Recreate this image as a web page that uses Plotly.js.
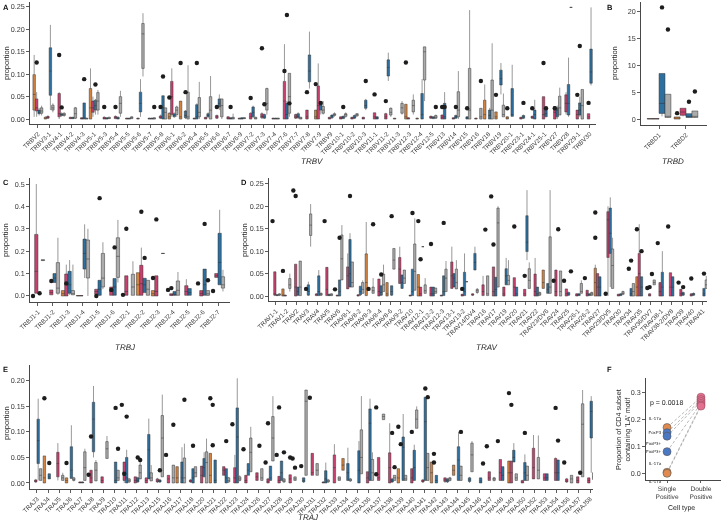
<!DOCTYPE html>
<html><head><meta charset="utf-8">
<script src="https://cdn.plot.ly/plotly-3.0.1.min.js"></script>
<style>html,body{margin:0;padding:0;background:#fff}#chart{width:722px;height:525px;opacity:0.995;will-change:transform}#chart text{text-rendering:geometricPrecision}</style>
</head><body><div id="chart"></div>
<script>
// ---------------- DATA ----------------
// box tuples: [category, lowerWhisker, q1, median, q3, upperWhisker]
// outliers: [category, group (O=orange,P=pink,B=blue,G=grey), value]
const trbvCats = ["TRBV2","TRBV3-1","TRBV4-1","TRBV4-2","TRBV4-3","TRBV5-1","TRBV5-3","TRBV5-4","TRBV5-5","TRBV5-6","TRBV5-7","TRBV5-8","TRBV6-1","TRBV6-2","TRBV6-4","TRBV6-5","TRBV6-6","TRBV6-7","TRBV6-9","TRBV7-2","TRBV7-3","TRBV7-4","TRBV7-6","TRBV7-7","TRBV7-8","TRBV7-9","TRBV9","TRBV10-1","TRBV10-2","TRBV10-3","TRBV11-1","TRBV11-2","TRBV11-3","TRBV12-3","TRBV12-4","TRBV12-5","TRBV13","TRBV14","TRBV15","TRBV16","TRBV18","TRBV19","TRBV20-1","TRBV23-1","TRBV24-1","TRBV25-1","TRBV27","TRBV28","TRBV29-1","TRBV30"];
const trbvOrange = [["TRBV2",0.005,0.02,0.055,0.099,0.143],["TRBV3-1",0,0,0.002,0.004,0.006],["TRBV5-1",0,0,0.025,0.068,0.113],["TRBV6-1",0,0,0.005,0.013,0.015],["TRBV6-2",0,0,0.005,0.04,0.04],["TRBV7-9",0,0,0.005,0.02,0.02],["TRBV11-3",0,0,0.001,0.002,0.002],["TRBV12-3",0,0,0.005,0.033,0.033],["TRBV12-4",0,0,0.001,0.002,0.003],["TRBV18",0,0,0.01,0.042,0.077],["TRBV19",0,0,0.005,0.016,0.016],["TRBV20-1",0,0,0.002,0.005,0.006]];
const trbvPink = [["TRBV2",0.005,0.018,0.025,0.045,0.06],["TRBV3-1",0,0.002,0.004,0.006,0.008],["TRBV4-1",0,0.005,0.012,0.057,0.06],["TRBV4-2",0,0.001,0.002,0.004,0.005],["TRBV4-3",0,0,0.001,0.003,0.004],["TRBV5-1",0.005,0.015,0.025,0.04,0.05],["TRBV5-3",0,0,0.002,0.004,0.006],["TRBV5-4",0,0.001,0.003,0.006,0.008],["TRBV5-5",0,0,0.001,0.002,0.003],["TRBV5-6",0,0,0.001,0.002,0.003],["TRBV5-7",0,0,0.001,0.002,0.003],["TRBV5-8",0,0.002,0.004,0.007,0.01],["TRBV6-1",0.005,0.01,0.05,0.084,0.113],["TRBV6-4",0,0,0.001,0.002,0.003],["TRBV6-5",0,0,0.002,0.004,0.005],["TRBV6-6",0,0.002,0.005,0.008,0.01],["TRBV6-7",0,0,0.002,0.005,0.006],["TRBV6-9",0,0,0.001,0.002,0.003],["TRBV7-2",0,0,0.005,0.013,0.015],["TRBV7-3",0,0.003,0.006,0.012,0.015],["TRBV7-4",0,0,0.001,0.002,0.003],["TRBV7-6",0,0,0.04,0.084,0.167],["TRBV7-7",0,0.002,0.005,0.01,0.012],["TRBV7-8",0,0,0.005,0.02,0.02],["TRBV7-9",0,0,0.03,0.074,0.124],["TRBV9",0,0,0.002,0.004,0.005],["TRBV10-1",0,0,0.002,0.005,0.006],["TRBV10-2",0,0,0.002,0.004,0.005],["TRBV10-3",0,0,0.002,0.004,0.005],["TRBV11-1",0,0,0.005,0.014,0.014],["TRBV11-2",0,0,0.005,0.012,0.014],["TRBV12-3",0,0,0.001,0.003,0.004],["TRBV12-5",0,0.002,0.004,0.006,0.008],["TRBV13",0,0,0.004,0.009,0.01],["TRBV14",0,0,0.001,0.003,0.004],["TRBV16",0,0,0.001,0.002,0.003],["TRBV23-1",0,0,0.002,0.004,0.005],["TRBV24-1",0,0.002,0.004,0.006,0.008],["TRBV25-1",0,0,0.01,0.05,0.05],["TRBV27",0,0,0.015,0.028,0.028],["TRBV28",0.01,0.016,0.035,0.054,0.06],["TRBV29-1",0,0,0.01,0.02,0.02],["TRBV30",0,0,0.005,0.012,0.012]];
const trbvBlue = [["TRBV2",0.008,0.012,0.015,0.02,0.025],["TRBV3-1",0.02,0.053,0.107,0.159,0.21],["TRBV4-1",0.005,0.008,0.01,0.012,0.015],["TRBV4-2",0,0.001,0.002,0.004,0.005],["TRBV4-3",0,0,0.003,0.036,0.036],["TRBV5-1",0.01,0.02,0.03,0.042,0.045],["TRBV5-3",0,0,0.001,0.003,0.004],["TRBV5-4",0,0,0.002,0.004,0.006],["TRBV5-5",0,0,0.001,0.002,0.003],["TRBV5-6",0.005,0.016,0.035,0.06,0.089],["TRBV5-7",0,0,0.001,0.002,0.003],["TRBV5-8",0,0,0.025,0.052,0.052],["TRBV6-1",0.003,0.005,0.008,0.012,0.015],["TRBV6-2",0,0.003,0.008,0.018,0.02],["TRBV6-4",0,0,0.005,0.032,0.035],["TRBV6-5",0.003,0.005,0.008,0.012,0.015],["TRBV6-6",0.02,0.027,0.035,0.045,0.055],["TRBV6-7",0,0,0.001,0.003,0.004],["TRBV6-9",0,0,0.001,0.003,0.004],["TRBV7-2",0.003,0.005,0.015,0.027,0.03],["TRBV7-3",0,0.002,0.005,0.01,0.012],["TRBV7-4",0,0,0.001,0.002,0.003],["TRBV7-6",0,0,0.01,0.035,0.04],["TRBV7-7",0,0.003,0.006,0.012,0.015],["TRBV7-8",0.068,0.083,0.107,0.143,0.195],["TRBV7-9",0.01,0.02,0.03,0.036,0.04],["TRBV9",0,0.003,0.006,0.009,0.01],["TRBV10-1",0,0.001,0.003,0.006,0.008],["TRBV10-2",0,0.002,0.004,0.008,0.01],["TRBV10-3",0.02,0.024,0.03,0.042,0.045],["TRBV11-1",0,0,0.003,0.005,0.006],["TRBV11-2",0.085,0.096,0.115,0.132,0.148],["TRBV12-4",0,0,0.01,0.057,0.089],["TRBV12-5",0,0.001,0.003,0.005,0.006],["TRBV13",0,0,0.005,0.035,0.06],["TRBV14",0,0.002,0.005,0.008,0.01],["TRBV15",0,0,0.003,0.005,0.006],["TRBV18",0,0,0.008,0.02,0.025],["TRBV19",0.055,0.076,0.09,0.109,0.125],["TRBV20-1",0.005,0.006,0.01,0.068,0.121],["TRBV23-1",0,0.002,0.005,0.008,0.01],["TRBV24-1",0,0,0.01,0.02,0.043],["TRBV25-1",0.005,0.005,0.012,0.024,0.024],["TRBV27",0,0.005,0.02,0.025,0.03],["TRBV28",0.005,0.009,0.035,0.077,0.137],["TRBV29-1",0.005,0.009,0.02,0.036,0.05],["TRBV30",0.075,0.08,0.105,0.156,0.249]];
const trbvGrey = [["TRBV2",0.008,0.013,0.018,0.025,0.03],["TRBV3-1",0.015,0.02,0.025,0.031,0.035],["TRBV4-1",0.005,0.008,0.01,0.013,0.015],["TRBV4-2",0,0.002,0.012,0.025,0.027],["TRBV4-3",0,0,0.001,0.002,0.003],["TRBV5-1",0.01,0.02,0.04,0.059,0.065],["TRBV5-3",0,0.001,0.002,0.004,0.005],["TRBV5-4",0.005,0.013,0.035,0.05,0.063],["TRBV5-5",0,0.001,0.003,0.005,0.006],["TRBV5-6",0.095,0.113,0.19,0.213,0.236],["TRBV5-7",0,0,0.001,0.003,0.004],["TRBV5-8",0,0,0.015,0.025,0.025],["TRBV6-1",0.005,0.01,0.02,0.027,0.03],["TRBV6-2",0,0,0.005,0.06,0.12],["TRBV6-4",0,0.005,0.015,0.048,0.083],["TRBV6-5",0,0,0.02,0.05,0.096],["TRBV6-6",0,0.005,0.03,0.045,0.045],["TRBV6-7",0,0,0.002,0.004,0.012],["TRBV6-9",0,0.001,0.002,0.003,0.004],["TRBV7-2",0,0,0.002,0.004,0.005],["TRBV7-3",0.01,0.02,0.035,0.068,0.07],["TRBV7-4",0,0,0.001,0.002,0.003],["TRBV7-6",0.005,0.013,0.05,0.102,0.102],["TRBV7-7",0,0,0.002,0.004,0.005],["TRBV7-9",0.01,0.013,0.02,0.028,0.04],["TRBV9",0.005,0.008,0.01,0.012,0.015],["TRBV10-1",0.003,0.006,0.01,0.012,0.015],["TRBV10-2",0.005,0.007,0.01,0.012,0.013],["TRBV11-2",0.005,0.009,0.015,0.024,0.026],["TRBV11-3",0.01,0.013,0.025,0.035,0.04],["TRBV12-3",0.01,0.016,0.03,0.042,0.055],["TRBV12-4",0.04,0.087,0.15,0.161,0.161],["TRBV12-5",0,0.002,0.004,0.008,0.01],["TRBV14",0,0.005,0.02,0.061,0.107],["TRBV15",0,0,0.02,0.113,0.243],["TRBV16",0,0,0.005,0.024,0.024],["TRBV18",0,0,0.02,0.087,0.169],["TRBV19",0.005,0.005,0.01,0.031,0.057],["TRBV27",0.009,0.009,0.025,0.051,0.07],["TRBV28",0.249,0.249,0.249,0.249,0.249],["TRBV29-1",0,0,0.03,0.066,0.066]];
const trbvOutliers = [["TRBV2","P",0.126],["TRBV4-1","P",0.143],["TRBV4-1","B",0.026],["TRBV4-3","B",0.089],["TRBV5-1","B",0.077],["TRBV5-3","P",0.027],["TRBV5-4","P",0.027],["TRBV5-7","G",0.027],["TRBV5-8","P",0.027],["TRBV5-8","B",0.095],["TRBV6-1","O",0.048],["TRBV6-2","O",0.125],["TRBV6-2","B",0.06],["TRBV6-4","B",0.125],["TRBV6-6","P",0.027],["TRBV6-7","B",0.027],["TRBV7-2","P",0.047],["TRBV7-3","P",0.158],["TRBV7-3","B",0.033],["TRBV7-6","P",0.107],["TRBV7-6","B",0.232],["TRBV7-6","G",0.035],["TRBV7-8","P",0.06],["TRBV7-9","O",0.078],["TRBV7-9","B",0.036],["TRBV10-1","B",0.027],["TRBV10-3","B",0.085],["TRBV11-1","P",0.055],["TRBV11-2","P",0.04],["TRBV12-3","O",0.126],["TRBV12-5","G",0.027],["TRBV13","P",0.027],["TRBV13","B",0.027],["TRBV14","B",0.027],["TRBV15","B",0.024],["TRBV16","G",0.085],["TRBV19","O",0.054],["TRBV20-1","O",0.024],["TRBV23-1","B",0.036],["TRBV24-1","P",0.024],["TRBV25-1","P",0.125],["TRBV25-1","B",0.024],["TRBV27","P",0.024],["TRBV29-1","P",0.054],["TRBV29-1","B",0.163],["TRBV30","P",0.036]];

const trbdCats = ["TRBD1","TRBD2"];
const trbdOrange = [["TRBD1",0,0,0.05,0.1,0.1],["TRBD2",0,0,0.2,0.4,0.4]];
const trbdPink = [["TRBD1",0,0,0.05,0.1,0.1],["TRBD2",0.5,0.7,1.3,2.0,2.0]];
const trbdBlue = [["TRBD1",0.5,1.05,2.9,8.45,8.45],["TRBD2",0.2,0.3,0.4,1.0,1.0]];
const trbdGrey = [["TRBD1",0.2,0.3,0.5,4.6,4.6],["TRBD2",0.2,0.3,0.5,1.5,1.5]];
const trbdOutliers = [["TRBD1","B",20.7],["TRBD1","G",16.6],["TRBD2","O",1.1],["TRBD2","B",3.2],["TRBD2","G",5.1]];

const trbjCats = ["TRBJ1-1","TRBJ1-2","TRBJ1-3","TRBJ1-4","TRBJ1-5","TRBJ1-6","TRBJ2-1","TRBJ2-2","TRBJ2-3","TRBJ2-4","TRBJ2-5","TRBJ2-6","TRBJ2-7"];
const trbjOrange = [["TRBJ1-3",0,0,0.01,0.024,0.024],["TRBJ1-4",0,0,0.001,0.002,0.003],["TRBJ2-2",0.003,0.003,0.05,0.104,0.104],["TRBJ2-3",0,0,0.01,0.024,0.024]];
const trbjPink = [["TRBJ1-1",0.012,0.012,0.11,0.275,0.5],["TRBJ1-2",0.005,0.005,0.015,0.027,0.027],["TRBJ1-3",0,0,0.05,0.098,0.14],["TRBJ1-4",0,0,0.001,0.002,0.003],["TRBJ1-5",0.008,0.008,0.02,0.03,0.03],["TRBJ1-6",0.003,0.003,0.02,0.04,0.04],["TRBJ2-1",0.003,0.003,0.02,0.09,0.09],["TRBJ2-2",0.003,0.003,0.055,0.137,0.216],["TRBJ2-3",0,0,0.02,0.09,0.09],["TRBJ2-4",0,0.002,0.005,0.01,0.01],["TRBJ2-5",0.003,0.003,0.02,0.046,0.075],["TRBJ2-6",0,0,0.01,0.024,0.024],["TRBJ2-7",0.083,0.083,0.09,0.1,0.1]];
const trbjBlue = [["TRBJ1-2",0.06,0.06,0.08,0.1,0.1],["TRBJ1-3",0.005,0.012,0.05,0.11,0.16],["TRBJ1-4",0.08,0.12,0.19,0.254,0.32],["TRBJ1-5",0,0.003,0.03,0.07,0.07],["TRBJ1-6",0.003,0.003,0.04,0.078,0.078],["TRBJ2-2",0.015,0.015,0.05,0.079,0.079],["TRBJ2-4",0,0.003,0.008,0.02,0.02],["TRBJ2-5",0.003,0.003,0.015,0.033,0.033],["TRBJ2-6",0.003,0.003,0.05,0.12,0.12],["TRBJ2-7",0.05,0.05,0.15,0.28,0.385]];
const trbjGrey = [["TRBJ1-1",0.158,0.158,0.16,0.162,0.162],["TRBJ1-2",0.005,0.012,0.035,0.149,0.26],["TRBJ1-3",0.005,0.005,0.01,0.024,0.14],["TRBJ1-4",0,0.08,0.165,0.25,0.3],["TRBJ1-5",0.03,0.04,0.08,0.19,0.24],["TRBJ1-6",0.06,0.083,0.177,0.26,0.34],["TRBJ2-1",0.003,0.003,0.04,0.097,0.155],["TRBJ2-2",0.003,0.003,0.03,0.07,0.07],["TRBJ2-3",0.19,0.19,0.19,0.19,0.19],["TRBJ2-4",0.003,0.003,0.025,0.067,0.107],["TRBJ2-6",0,0.003,0.01,0.024,0.024],["TRBJ2-7",0.02,0.035,0.05,0.086,0.117]];
const trbjOutliers = [["TRBJ1-1","O",0.0],["TRBJ1-1","B",0.012],["TRBJ1-2","P",0.067],["TRBJ1-3","P",0.056],["TRBJ1-5","P",0.0],["TRBJ1-5","B",0.437],["TRBJ1-6","P",0.027],["TRBJ1-6","B",0.217],["TRBJ2-1","O",0.005],["TRBJ2-1","P",0.3],["TRBJ2-2","P",0.376],["TRBJ2-2","B",0.17],["TRBJ2-3","O",0.08],["TRBJ2-3","P",0.342],["TRBJ2-4","O",0.027],["TRBJ2-4","P",0.035],["TRBJ2-6","O",0.056],["TRBJ2-6","B",0.322],["TRBJ2-6","G",0.07],["TRBJ2-7","O",0.022]];

const travCats = ["TRAV1-1","TRAV1-2","TRAV2","TRAV3","TRAV4","TRAV5","TRAV6","TRAV8-1","TRAV8-2","TRAV8-3","TRAV8-4","TRAV8-6","TRAV9-2","TRAV10","TRAV12-1","TRAV12-2","TRAV12-3","TRAV13-1","TRAV13-2","TRAV14/DV4","TRAV16","TRAV17","TRAV19","TRAV20","TRAV21","TRAV22","TRAV23/DV6","TRAV24","TRAV25","TRAV26-1","TRAV26-2","TRAV27","TRAV29/DV5","TRAV30","TRAV34","TRAV35","TRAV36/DV7","TRAV38-1","TRAV38-2/DV8","TRAV39","TRAV40","TRAV41"];
const travOrange = [["TRAV1-2",0,0,0.002,0.016,0.016],["TRAV8-3",0,0.001,0.03,0.094,0.165],["TRAV8-6",0,0,0.005,0.03,0.03],["TRAV12-1",0,0,0.02,0.048,0.048],["TRAV23/DV6",0.017,0.017,0.03,0.058,0.058],["TRAV27",0,0,0.03,0.062,0.07],["TRAV35",0,0,0.02,0.043,0.043]];
const travPink = [["TRAV1-1",0,0.002,0.005,0.054,0.054],["TRAV1-2",0,0,0.001,0.002,0.003],["TRAV2",0,0,0.02,0.071,0.071],["TRAV4",0,0.001,0.003,0.005,0.006],["TRAV5",0.001,0.001,0.015,0.064,0.064],["TRAV6",0,0,0.001,0.002,0.003],["TRAV8-1",0.016,0.016,0.045,0.065,0.095],["TRAV8-2",0,0,0.001,0.003,0.004],["TRAV8-4",0,0,0.01,0.038,0.038],["TRAV9-2",0.028,0.028,0.06,0.086,0.11],["TRAV10",0,0,0.001,0.002,0.003],["TRAV12-1",0,0,0.005,0.02,0.02],["TRAV12-2",0,0,0.005,0.02,0.02],["TRAV12-3",0,0,0.001,0.002,0.003],["TRAV13-1",0.017,0.017,0.045,0.076,0.11],["TRAV13-2",0,0,0.002,0.004,0.005],["TRAV14/DV4",0,0.002,0.003,0.005,0.006],["TRAV16",0.001,0.001,0.01,0.025,0.045],["TRAV17",0,0,0.01,0.065,0.065],["TRAV19",0,0,0.005,0.02,0.02],["TRAV20",0,0,0.02,0.041,0.041],["TRAV21",0,0,0.005,0.015,0.015],["TRAV22",0,0,0.01,0.049,0.085],["TRAV24",0,0,0.01,0.058,0.058],["TRAV25",0,0,0.005,0.016,0.016],["TRAV26-1",0,0,0.002,0.005,0.006],["TRAV26-2",0,0,0.005,0.013,0.013],["TRAV27",0,0,0.02,0.05,0.05],["TRAV29/DV5",0,0.086,0.17,0.188,0.2],["TRAV30",0,0,0.002,0.004,0.005],["TRAV35",0,0,0.05,0.095,0.16],["TRAV36/DV7",0,0,0.002,0.005,0.006],["TRAV38-1",0,0,0.01,0.03,0.03],["TRAV38-2/DV8",0,0,0.02,0.052,0.052],["TRAV39",0,0,0.005,0.015,0.015],["TRAV40",0,0,0.002,0.005,0.006]];
const travBlue = [["TRAV1-1",0,0.001,0.002,0.003,0.004],["TRAV2",0,0.002,0.01,0.02,0.02],["TRAV3",0,0.002,0.01,0.025,0.032],["TRAV4",0.001,0.001,0.01,0.045,0.058],["TRAV5",0,0.001,0.002,0.004,0.005],["TRAV6",0,0,0.01,0.036,0.036],["TRAV8-1",0.02,0.02,0.05,0.126,0.14],["TRAV8-2",0,0.003,0.01,0.022,0.022],["TRAV8-4",0,0.002,0.008,0.023,0.023],["TRAV8-6",0,0.002,0.01,0.023,0.023],["TRAV9-2",0.017,0.017,0.03,0.047,0.047],["TRAV10",0.001,0.001,0.01,0.06,0.06],["TRAV12-1",0.11,0.11,0.11,0.11,0.11],["TRAV12-2",0,0,0.005,0.02,0.02],["TRAV12-3",0.001,0.001,0.01,0.045,0.045],["TRAV13-1",0.02,0.02,0.04,0.05,0.05],["TRAV13-2",0.001,0.001,0.01,0.053,0.095],["TRAV14/DV4",0.058,0.058,0.075,0.095,0.11],["TRAV17",0,0,0.015,0.042,0.042],["TRAV19",0.025,0.025,0.045,0.061,0.085],["TRAV20",0,0,0.005,0.02,0.02],["TRAV21",0.08,0.099,0.12,0.179,0.236],["TRAV22",0,0,0.005,0.02,0.02],["TRAV23/DV6",0.006,0.006,0.015,0.028,0.028],["TRAV25",0,0.002,0.005,0.008,0.01],["TRAV26-1",0,0.001,0.003,0.005,0.006],["TRAV26-2",0,0.001,0.003,0.005,0.006],["TRAV27",0,0,0.02,0.043,0.043],["TRAV29/DV5",0.02,0.095,0.14,0.196,0.22],["TRAV30",0,0.001,0.003,0.005,0.006],["TRAV34",0,0,0.005,0.017,0.017],["TRAV35",0,0,0.02,0.043,0.043],["TRAV38-1",0,0,0.02,0.053,0.1],["TRAV38-2/DV8",0,0,0.02,0.043,0.043],["TRAV39",0,0.002,0.005,0.008,0.01],["TRAV40",0,0.002,0.004,0.006,0.008],["TRAV41",0,0,0.005,0.017,0.017]];
const travGrey = [["TRAV1-1",0,0.002,0.003,0.005,0.006],["TRAV1-2",0.01,0.017,0.025,0.039,0.05],["TRAV2",0.001,0.001,0.02,0.078,0.078],["TRAV3",0.11,0.135,0.158,0.183,0.205],["TRAV4",0,0.002,0.004,0.006,0.008],["TRAV5",0,0.001,0.003,0.005,0.006],["TRAV6",0.036,0.036,0.083,0.136,0.158],["TRAV8-1",0.02,0.02,0.03,0.076,0.076],["TRAV8-2",0.006,0.006,0.015,0.03,0.035],["TRAV8-3",0.006,0.006,0.012,0.02,0.04],["TRAV8-4",0.01,0.01,0.025,0.049,0.07],["TRAV8-6",0.06,0.06,0.08,0.106,0.106],["TRAV9-2",0.028,0.028,0.04,0.058,0.058],["TRAV10",0.013,0.013,0.055,0.116,0.173],["TRAV12-1",0.006,0.006,0.012,0.025,0.04],["TRAV12-2",0.006,0.006,0.01,0.018,0.018],["TRAV12-3",0.01,0.01,0.04,0.06,0.078],["TRAV13-1",0.016,0.016,0.03,0.06,0.08],["TRAV13-2",0.032,0.032,0.032,0.032,0.032],["TRAV14/DV4",0.005,0.008,0.012,0.015,0.018],["TRAV16",0.001,0.001,0.005,0.045,0.045],["TRAV17",0.02,0.02,0.163,0.196,0.2],["TRAV19",0.025,0.025,0.035,0.046,0.08],["TRAV21",0.017,0.017,0.035,0.061,0.075],["TRAV22",0,0.002,0.005,0.008,0.01],["TRAV23/DV6",0.006,0.006,0.02,0.132,0.236],["TRAV24",0,0,0.01,0.056,0.056],["TRAV26-1",0.006,0.006,0.01,0.028,0.035],["TRAV26-2",0,0.002,0.005,0.008,0.01],["TRAV29/DV5",0.017,0.017,0.068,0.105,0.13],["TRAV30",0.002,0.004,0.006,0.01,0.012],["TRAV34",0,0,0.01,0.028,0.028],["TRAV36/DV7",0.025,0.025,0.03,0.036,0.036],["TRAV41",0.017,0.017,0.025,0.036,0.045]];
const travOutliers = [["TRAV1-1","O",0.167],["TRAV1-2","O",0.056],["TRAV2","O",0.235],["TRAV2","P",0.223],["TRAV3","P",0.016],["TRAV5","O",0.167],["TRAV6","O",0.015],["TRAV6","B",0.13],["TRAV8-1","B",0.223],["TRAV8-3","P",0.016],["TRAV8-3","G",0.16],["TRAV8-4","B",0.048],["TRAV8-6","B",0.178],["TRAV10","B",0.185],["TRAV12-1","O",0.167],["TRAV12-1","P",0.082],["TRAV12-2","P",0.116],["TRAV12-3","B",0.163],["TRAV13-2","P",0.016],["TRAV16","B",0.148],["TRAV17","O",0.222],["TRAV17","P",0.115],["TRAV20","P",0.155],["TRAV21","P",0.045],["TRAV24","O",0.034],["TRAV24","B",0.149],["TRAV25","O",0.034],["TRAV25","G",0.055],["TRAV26-2","O",0.04],["TRAV27","O",0.186],["TRAV27","O",0.13],["TRAV29/DV5","O",0.005],["TRAV34","P",0.061],["TRAV34","B",0.079],["TRAV35","O",0.149],["TRAV35","B",0.1],["TRAV36/DV7","O",0.018],["TRAV36/DV7","B",0.049],["TRAV36/DV7","P",0.02],["TRAV38-1","O",0.118],["TRAV38-2/DV8","O",0.155],["TRAV39","O",0.03],["TRAV39","B",0.02],["TRAV40","P",0.039],["TRAV41","B",0.05]];

const trajCats = ["TRAJ3","TRAJ4","TRAJ5","TRAJ6","TRAJ7","TRAJ8","TRAJ9","TRAJ10","TRAJ11","TRAJ12","TRAJ13","TRAJ15","TRAJ16","TRAJ17","TRAJ18","TRAJ20","TRAJ21","TRAJ22","TRAJ23","TRAJ24","TRAJ26","TRAJ27","TRAJ28","TRAJ29","TRAJ30","TRAJ31","TRAJ32","TRAJ33","TRAJ34","TRAJ35","TRAJ36","TRAJ37","TRAJ38","TRAJ39","TRAJ40","TRAJ41","TRAJ42","TRAJ43","TRAJ44","TRAJ45","TRAJ46","TRAJ47","TRAJ48","TRAJ49","TRAJ50","TRAJ52","TRAJ53","TRAJ54","TRAJ56","TRAJ57","TRAJ58"];
const trajOrange = [["TRAJ4",0,0,0.01,0.053,0.053],["TRAJ6",0,0,0.005,0.01,0.01],["TRAJ17",0,0,0.01,0.032,0.032],["TRAJ21",0,0,0.015,0.058,0.058],["TRAJ34",0.025,0.025,0.035,0.048,0.048],["TRAJ39",0,0,0.01,0.028,0.028],["TRAJ42",0,0,0.02,0.041,0.041],["TRAJ44",0.015,0.015,0.025,0.035,0.035],["TRAJ49",0,0,0.02,0.043,0.043]];
const trajPink = [["TRAJ3",0,0.002,0.004,0.006,0.008],["TRAJ5",0.005,0.012,0.038,0.06,0.078],["TRAJ7",0,0,0.001,0.002,0.003],["TRAJ8",0,0,0.01,0.025,0.025],["TRAJ9",0,0,0.005,0.012,0.012],["TRAJ11",0,0.005,0.015,0.041,0.041],["TRAJ12",0,0,0.005,0.012,0.012],["TRAJ13",0,0,0.005,0.01,0.01],["TRAJ15",0,0.002,0.004,0.008,0.01],["TRAJ16",0,0,0.008,0.015,0.015],["TRAJ18",0,0.002,0.004,0.006,0.008],["TRAJ20",0,0,0.015,0.033,0.033],["TRAJ22",0.015,0.015,0.025,0.032,0.032],["TRAJ23",0,0,0.01,0.03,0.055],["TRAJ24",0,0,0.005,0.015,0.015],["TRAJ26",0.005,0.005,0.012,0.02,0.02],["TRAJ27",0,0,0.003,0.008,0.01],["TRAJ28",0,0,0.005,0.013,0.013],["TRAJ29",0,0,0.008,0.016,0.016],["TRAJ31",0.015,0.015,0.02,0.058,0.058],["TRAJ32",0,0,0.001,0.002,0.003],["TRAJ33",0,0,0.03,0.055,0.076],["TRAJ36",0,0,0.01,0.022,0.022],["TRAJ37",0.005,0.005,0.01,0.05,0.05],["TRAJ38",0,0,0.03,0.059,0.117],["TRAJ40",0,0,0.01,0.028,0.028],["TRAJ41",0,0.002,0.004,0.006,0.008],["TRAJ43",0,0.003,0.006,0.01,0.01],["TRAJ47",0.005,0.005,0.01,0.022,0.022],["TRAJ48",0.005,0.005,0.02,0.046,0.046],["TRAJ49",0,0,0.02,0.043,0.043],["TRAJ50",0,0,0.002,0.005,0.006],["TRAJ52",0.008,0.008,0.03,0.068,0.094],["TRAJ53",0.005,0.005,0.01,0.018,0.018],["TRAJ54",0.005,0.005,0.02,0.048,0.05],["TRAJ56",0,0.002,0.004,0.008,0.01],["TRAJ57",0,0,0.005,0.012,0.012],["TRAJ58",0,0,0.005,0.01,0.01]];
const trajBlue = [["TRAJ3",0.005,0.038,0.083,0.125,0.165],["TRAJ4",0.008,0.008,0.012,0.018,0.018],["TRAJ6",0.009,0.009,0.025,0.071,0.113],["TRAJ7",0,0,0.001,0.002,0.003],["TRAJ8",0.05,0.061,0.125,0.158,0.19],["TRAJ10",0,0,0.005,0.041,0.041],["TRAJ11",0,0,0.01,0.05,0.065],["TRAJ12",0,0.002,0.005,0.01,0.012],["TRAJ13",0.008,0.008,0.065,0.095,0.126],["TRAJ15",0,0.002,0.004,0.006,0.008],["TRAJ17",0,0,0.01,0.041,0.07],["TRAJ18",0,0,0.01,0.028,0.028],["TRAJ20",0.012,0.012,0.03,0.048,0.06],["TRAJ21",0,0,0.005,0.045,0.045],["TRAJ22",0,0,0.01,0.028,0.028],["TRAJ23",0,0,0.09,0.147,0.205],["TRAJ24",0.015,0.015,0.025,0.038,0.038],["TRAJ27",0.005,0.005,0.01,0.033,0.033],["TRAJ28",0.005,0.005,0.02,0.043,0.043],["TRAJ30",0,0.002,0.005,0.01,0.01],["TRAJ32",0,0,0.008,0.024,0.04],["TRAJ34",0.005,0.005,0.02,0.038,0.069],["TRAJ35",0,0,0.025,0.063,0.082],["TRAJ36",0.005,0.005,0.117,0.145,0.165],["TRAJ38",0,0.002,0.004,0.008,0.01],["TRAJ39",0.005,0.005,0.07,0.09,0.135],["TRAJ40",0.005,0.005,0.03,0.064,0.075],["TRAJ41",0.005,0.005,0.12,0.168,0.168],["TRAJ42",0,0,0.005,0.015,0.015],["TRAJ43",0,0.002,0.005,0.008,0.01],["TRAJ44",0.005,0.005,0.045,0.071,0.1],["TRAJ45",0,0.003,0.006,0.01,0.012],["TRAJ46",0,0,0.004,0.01,0.01],["TRAJ48",0.005,0.005,0.015,0.032,0.032],["TRAJ49",0.041,0.041,0.05,0.064,0.078],["TRAJ50",0.005,0.005,0.02,0.04,0.056],["TRAJ53",0.005,0.005,0.01,0.018,0.018],["TRAJ54",0.005,0.005,0.02,0.045,0.045],["TRAJ58",0.02,0.088,0.14,0.16,0.17]];
const trajGrey = [["TRAJ3",0.005,0.005,0.015,0.028,0.028],["TRAJ5",0.005,0.005,0.01,0.015,0.02],["TRAJ6",0.003,0.005,0.007,0.01,0.012],["TRAJ7",0.005,0.005,0.03,0.061,0.067],["TRAJ8",0.004,0.004,0.025,0.04,0.045],["TRAJ9",0.048,0.048,0.067,0.081,0.092],["TRAJ10",0.005,0.005,0.01,0.025,0.025],["TRAJ11",0,0.002,0.005,0.008,0.01],["TRAJ12",0.008,0.008,0.02,0.035,0.05],["TRAJ13",0.004,0.004,0.01,0.02,0.035],["TRAJ15",0.012,0.012,0.088,0.132,0.173],["TRAJ16",0,0,0.01,0.035,0.035],["TRAJ17",0,0,0.01,0.049,0.077],["TRAJ18",0.012,0.012,0.02,0.032,0.032],["TRAJ20",0,0,0.04,0.061,0.087],["TRAJ22",0,0.002,0.005,0.01,0.012],["TRAJ23",0.003,0.005,0.008,0.012,0.015],["TRAJ24",0.022,0.022,0.06,0.088,0.11],["TRAJ26",0.005,0.005,0.01,0.028,0.028],["TRAJ27",0.043,0.043,0.088,0.13,0.17],["TRAJ28",0,0.002,0.004,0.008,0.01],["TRAJ29",0.005,0.005,0.008,0.012,0.012],["TRAJ30",0.015,0.015,0.16,0.182,0.182],["TRAJ31",0.015,0.015,0.025,0.038,0.038],["TRAJ32",0,0.002,0.004,0.006,0.008],["TRAJ33",0.005,0.005,0.008,0.012,0.012],["TRAJ34",0.002,0.004,0.006,0.008,0.01],["TRAJ35",0.018,0.018,0.05,0.104,0.17],["TRAJ36",0.005,0.005,0.02,0.046,0.06],["TRAJ37",0.124,0.124,0.13,0.135,0.135],["TRAJ38",0.005,0.005,0.01,0.015,0.015],["TRAJ39",0.005,0.005,0.008,0.015,0.015],["TRAJ40",0.107,0.107,0.125,0.143,0.15],["TRAJ41",0.005,0.005,0.03,0.058,0.058],["TRAJ43",0.003,0.005,0.008,0.01,0.012],["TRAJ44",0.005,0.005,0.015,0.033,0.033],["TRAJ45",0.022,0.022,0.055,0.078,0.082],["TRAJ47",0.003,0.005,0.008,0.01,0.012],["TRAJ49",0.005,0.005,0.01,0.018,0.018],["TRAJ50",0.005,0.005,0.015,0.033,0.033],["TRAJ52",0.008,0.008,0.025,0.05,0.093],["TRAJ56",0,0,0.008,0.015,0.015],["TRAJ57",0.012,0.012,0.115,0.155,0.182],["TRAJ58",0.007,0.007,0.012,0.02,0.025]];
const trajOutliers = [["TRAJ4","O",0.166],["TRAJ4","B",0.039],["TRAJ6","O",0.039],["TRAJ8","O",0.016],["TRAJ8","P",0.091],["TRAJ10","B",0.147],["TRAJ10","G",0.067],["TRAJ11","O",0.153],["TRAJ11","B",0.13],["TRAJ11","P",0.018],["TRAJ12","B",0.05],["TRAJ12","G",0.045],["TRAJ15","B",0.025],["TRAJ16","O",0.055],["TRAJ16","G",0.114],["TRAJ17","G",0.163],["TRAJ18","B",0.073],["TRAJ21","O",0.166],["TRAJ21","P",0.153],["TRAJ21","P",0.074],["TRAJ22","B",0.082],["TRAJ23","O",0.115],["TRAJ24","O",0.066],["TRAJ26","B",0.073],["TRAJ27","O",0.04],["TRAJ27","P",0.117],["TRAJ28","O",0.055],["TRAJ28","P",0.148],["TRAJ28","G",0.06],["TRAJ29","P",0.05],["TRAJ29","B",0.048],["TRAJ29","G",0.03],["TRAJ30","P",0.033],["TRAJ31","O",0.167],["TRAJ37","O",0.148],["TRAJ37","O",0.017],["TRAJ38","B",0.098],["TRAJ38","G",0.031],["TRAJ39","O",0.11],["TRAJ39","P",0.076],["TRAJ40","P",0.1],["TRAJ41","B",0.185],["TRAJ41","G",0.168],["TRAJ42","P",0.04],["TRAJ42","P",0.057],["TRAJ44","G",0.1],["TRAJ46","G",0.038],["TRAJ47","O",0.072],["TRAJ48","O",0.082],["TRAJ49","O",0.176],["TRAJ49","P",0.153],["TRAJ50","B",0.098],["TRAJ54","P",0.147],["TRAJ54","B",0.083],["TRAJ56","O",0.04],["TRAJ57","B",0.02]];

// Panel F
const cellTypes = ["Single\nPositive","Double\nPositive"];
const singleSubset = ["IL-17a","FoxP3","FoxP3+","FoxP3+","IL-17a","IL-17a"];
const singleProp = [0.169,0.150,0.137,0.080,0.004,0.0];
const doubleProp = [0.281,0.272,0.265,0.258,0.252,0.248];
const pValueText = "p = 0.0018";

// ---------------- STYLE ----------------
const GROUPS = "OPBG";
const COLORS = ["#D4823F","#C83F6E","#2C6E9E","#ABABAB"];
const OFFSETS = [-0.33,-0.11,0.11,0.33];
const BOXW = 0.22;
const FONT = "Liberation Sans, Arial, sans-serif";
const AXC = "#333";

function boxTraces(cats, groups, ax, ay) {
  return groups.map((arr, g) => ({
    type: "box", xaxis: ax, yaxis: ay,
    x: arr.map(r => cats.indexOf(r[0]) + OFFSETS[g]),
    lowerfence: arr.map(r => r[1]), q1: arr.map(r => r[2]), median: arr.map(r => r[3]),
    q3: arr.map(r => r[4]), upperfence: arr.map(r => r[5]),
    width: BOXW, fillcolor: COLORS[g], line: {color: AXC, width: 0.5},
    whiskerwidth: 0, boxpoints: false, hoverinfo: "skip", showlegend: false
  }));
}
function outlierTrace(cats, outs, ax, ay) {
  return {type: "scatter", mode: "markers", xaxis: ax, yaxis: ay,
    x: outs.map(o => cats.indexOf(o[0]) + OFFSETS[GROUPS.indexOf(o[1])]),
    y: outs.map(o => o[2]), marker: {size: 4.4, color: "#1c1c1c"},
    hoverinfo: "skip", showlegend: false, cliponaxis: false};
}
function xCat(domain, cats, range, anchor) {
  return {domain, anchor, range, tickmode: "array", tickvals: cats.map((c, i) => i), ticktext: cats,
    tickangle: -45, ticks: "outside", ticklen: 3, tickwidth: 0.8, tickcolor: AXC,
    showline: true, linecolor: AXC, linewidth: 0.9, showgrid: false, zeroline: false,
    tickfont: {family: FONT, size: 6.3, color: "#3a3a3a"}, automargin: false, fixedrange: true};
}
function yNum(domain, range, dtick, fmt, anchor) {
  return {domain, anchor, range, dtick, tick0: 0, tickformat: fmt, ticks: "outside", ticklen: 3,
    tickwidth: 0.8, tickcolor: AXC, showline: true, linecolor: AXC, linewidth: 0.9,
    showgrid: false, zeroline: false, tickfont: {family: FONT, size: 7.2, color: "#3a3a3a"},
    automargin: false, fixedrange: true};
}
const W = 722, H = 525;
const px = v => v / W, py = v => 1 - v / H;

const traces = [].concat(
  boxTraces(trbvCats, [trbvOrange, trbvPink, trbvBlue, trbvGrey], "x", "y"),
  [outlierTrace(trbvCats, trbvOutliers, "x", "y")],
  boxTraces(trbdCats, [trbdOrange, trbdPink, trbdBlue, trbdGrey], "x2", "y2"),
  [outlierTrace(trbdCats, trbdOutliers, "x2", "y2")],
  boxTraces(trbjCats, [trbjOrange, trbjPink, trbjBlue, trbjGrey], "x3", "y3"),
  [outlierTrace(trbjCats, trbjOutliers, "x3", "y3")],
  boxTraces(travCats, [travOrange, travPink, travBlue, travGrey], "x4", "y4"),
  [outlierTrace(travCats, travOutliers, "x4", "y4")],
  boxTraces(trajCats, [trajOrange, trajPink, trajBlue, trajGrey], "x5", "y5"),
  [outlierTrace(trajCats, trajOutliers, "x5", "y5")]
);

// Panel F traces
const lx = [], ly = [];
singleProp.forEach((s, i) => { lx.push(0, 1, null); ly.push(s, doubleProp[i], null); });
traces.push({type: "scatter", mode: "lines", xaxis: "x6", yaxis: "y6", x: lx, y: ly,
  line: {color: "#A8A8A8", width: 0.8, dash: "3px,2px"}, hoverinfo: "skip", showlegend: false});
traces.push({type: "scatter", mode: "markers", xaxis: "x6", yaxis: "y6",
  x: doubleProp.map(() => 1), y: doubleProp,
  marker: {size: 8, color: "#E2708F", line: {color: "#9a4a60", width: 0.6}}, hoverinfo: "skip", showlegend: false, cliponaxis: false});
traces.push({type: "scatter", mode: "markers+text", xaxis: "x6", yaxis: "y6",
  x: singleProp.map(() => 0), y: singleProp, text: singleSubset,
  textposition: ["top left","middle left","bottom left","middle left","top left","bottom left"],
  textfont: {family: FONT, size: 4.3, color: "#222"},
  marker: {size: 8, color: singleSubset.map(s => s.startsWith("IL") ? "#E08A4E" : "#4A77C2"), line: {color: "#555", width: 0.6}},
  hoverinfo: "skip", showlegend: false, cliponaxis: false});

const layout = {
  width: W, height: H, margin: {l: 0, r: 0, t: 0, b: 0},
  paper_bgcolor: "#fff", plot_bgcolor: "#fff", showlegend: false,
  font: {family: FONT, color: "#222"}, boxmode: "overlay",
  xaxis: xCat([px(30), px(596)], trbvCats, [-0.7, 49.55], "y"),
  yaxis: yNum([py(124), py(2)], [-0.011, 0.261], 0.05, ".2f", "x"),
  xaxis2: xCat([px(641), px(707)], trbdCats, [-0.67, 1.78], "y2"),
  yaxis2: yNum([py(125), py(2)], [-1.1, 21.7], 5, "d", "x2"),
  xaxis3: xCat([px(30), px(230)], trbjCats, [-0.53, 12.8], "y3"),
  yaxis3: yNum([py(302), py(178)], [-0.027, 0.527], 0.1, ".1f", "x3"),
  xaxis4: xCat([px(269), px(707)], travCats, [-0.67, 41.4], "y4"),
  yaxis4: yNum([py(301), py(178)], [-0.011, 0.263], 0.05, ".2f", "x4"),
  xaxis5: xCat([px(30), px(593)], trajCats, [-0.63, 50.27], "y5"),
  yaxis5: yNum([py(489), py(365)], [-0.0118, 0.231], 0.05, ".2f", "x5"),
  xaxis6: Object.assign(xCat([px(646), px(721)], cellTypes.map(c => c.replace("\n", "<br>")), [-0.62, 1.59], "y6"),
            {tickangle: 0, ticklen: 2, tickfont: {family: FONT, size: 6.6, color: "#3a3a3a"}}),
  yaxis6: yNum([py(480), py(378)], [-0.0247, 0.3517], 0.1, ".1f", "x6"),
  annotations: []
};
const ann = (text, x, y, opts) => layout.annotations.push(Object.assign({
  text, x: px(x), y: py(y), xref: "paper", yref: "paper", showarrow: false,
  font: {family: FONT, size: 7.5, color: "#222"}, xanchor: "center", yanchor: "middle"}, opts || {}));
// panel letters
[["A",1,1],["B",605,1],["C",1,176],["D",239,176],["E",1,363],["F",605,363]].forEach(l =>
  ann("<b>" + l[0] + "</b>", l[1], l[2], {xanchor: "left", yanchor: "top", font: {family: FONT, size: 7.5, color: "#111"}}));
// y titles
[[6,63],[614,63],[6,240],[245,240],[6,423]].forEach(p => ann("proportion", p[0], p[1], {textangle: -90}));
ann("Proportion of CD4 subset<br>containing 'LA' motif", 623, 430, {textangle: -90, font: {family: FONT, size: 7.2, color: "#222"}});
// x titles
[["TRBV",312,162],["TRBD",673,162],["TRBJ",125,347],["TRAV",487,347],["TRAJ",308,517]].forEach(t =>
  ann("<i>" + t[0] + "</i>", t[1], t[2], {font: {family: FONT, size: 8, color: "#222"}}));
ann("Cell type", 681, 508, {font: {family: FONT, size: 7, color: "#222"}});
layout.annotations.push({text: pValueText, x: -0.03, y: 0.26, xref: "x6", yref: "y6", showarrow: false,
  font: {family: FONT, size: 7, color: "#222"}, xanchor: "center", yanchor: "middle"});

Plotly.newPlot("chart", traces, layout, {displayModeBar: false, staticPlot: true});
</script>
</body></html>
